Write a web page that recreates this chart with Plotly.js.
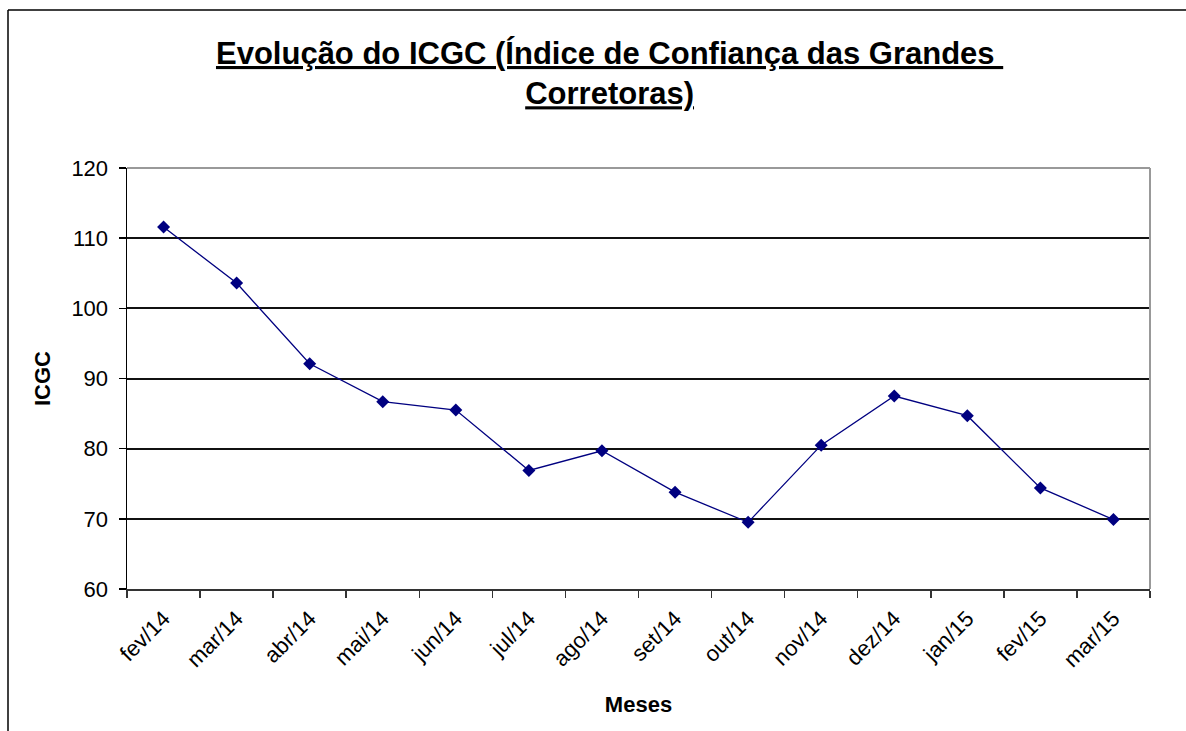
<!DOCTYPE html>
<html>
<head>
<meta charset="utf-8">
<script src="https://cdn.plot.ly/plotly-3.0.1.min.js"></script>
<style>
html,body{margin:0;padding:0;background:#fff;}
#chart{width:1186px;height:731px;}
</style>
</head>
<body>
<div id="chart"></div>
<script>
const months = ["fev/14","mar/14","abr/14","mai/14","jun/14","jul/14","ago/14","set/14","out/14","nov/14","dez/14","jan/15","fev/15","mar/15"];
const icgc = [111.6, 103.6, 92.1, 86.7, 85.5, 76.9, 79.7, 73.8, 69.5, 80.5, 87.5, 84.7, 74.4, 69.9];
const yTicks = [60, 70, 80, 90, 100, 110, 120];
const titleText = "<u>Evolução do ICGC (Índice de Confiança das Grandes </u><br><u>Corretoras)</u>";
const yTitle = "ICGC";
const xTitle = "Meses";

const font = "Arial, 'Liberation Sans', sans-serif";

const trace = {
  x: months,
  y: icgc,
  type: "scatter",
  mode: "lines+markers",
  line: {color: "#000080", width: 1.3},
  marker: {symbol: "diamond", size: 10, color: "#000080"},
  hoverinfo: "x+y"
};

const layout = {
  width: 1186,
  height: 731,
  margin: {l: 127, r: 36, t: 168, b: 142},
  paper_bgcolor: "#fff",
  plot_bgcolor: "#fff",
  showlegend: false,
  font: {family: font, color: "#000", size: 22},
  title: {
    text: titleText,
    font: {family: font, size: 31, color: "#000", weight: "bold"},
    x: 0.514, xanchor: "center",
    y: 1 - 64/731, yanchor: "top", yref: "container"
  },
  xaxis: {
    type: "category",
    range: [-0.5, 13.5],
    tickson: "boundaries",
    ticks: "outside",
    ticklen: 7,
    tickwidth: 1.5,
    tickcolor: "#333",
    tickangle: -45,
    ticklabelstandoff: 6,
    showline: true,
    linecolor: "#333",
    linewidth: 2,
    showgrid: false,
    zeroline: false,
    tickfont: {family: font, size: 22, color: "#000"},
    title: {text: xTitle, font: {family: font, size: 22, color: "#000", weight: "bold"}, standoff: 25}
  },
  yaxis: {
    range: [60, 120],
    tickvals: yTicks,
    ticks: "outside",
    ticklen: 7,
    tickwidth: 1.5,
    tickcolor: "#000",
    ticklabelstandoff: 6,
    showline: true,
    linecolor: "#000",
    linewidth: 1.5,
    showgrid: true,
    gridcolor: "#111",
    gridwidth: 2,
    zeroline: false,
    tickfont: {family: font, size: 22, color: "#000"},
    title: {text: yTitle, font: {family: font, size: 22, color: "#000", weight: "bold"}, standoff: 14}
  },
  shapes: [
    {type: "line", xref: "paper", yref: "paper", x0: 0, x1: 1, y0: 1, y1: 1, line: {color: "#999", width: 2}, layer: "above"},
    {type: "line", xref: "paper", yref: "paper", x0: 1, x1: 1, y0: 0, y1: 1, line: {color: "#999", width: 2}, layer: "above"},
    {type: "line", xref: "paper", yref: "paper", x0: (8-127)/1023, x1: (1200-127)/1023, y0: (589-10)/421, y1: (589-10)/421, line: {color: "#000", width: 1.5}},
    {type: "line", xref: "paper", yref: "paper", x0: (8-127)/1023, x1: (8-127)/1023, y0: (589-10)/421, y1: (589-745)/421, line: {color: "#000", width: 1.5}}
  ]
};

Plotly.newPlot("chart", [trace], layout, {displayModeBar: false, staticPlot: true});
</script>
</body>
</html>
